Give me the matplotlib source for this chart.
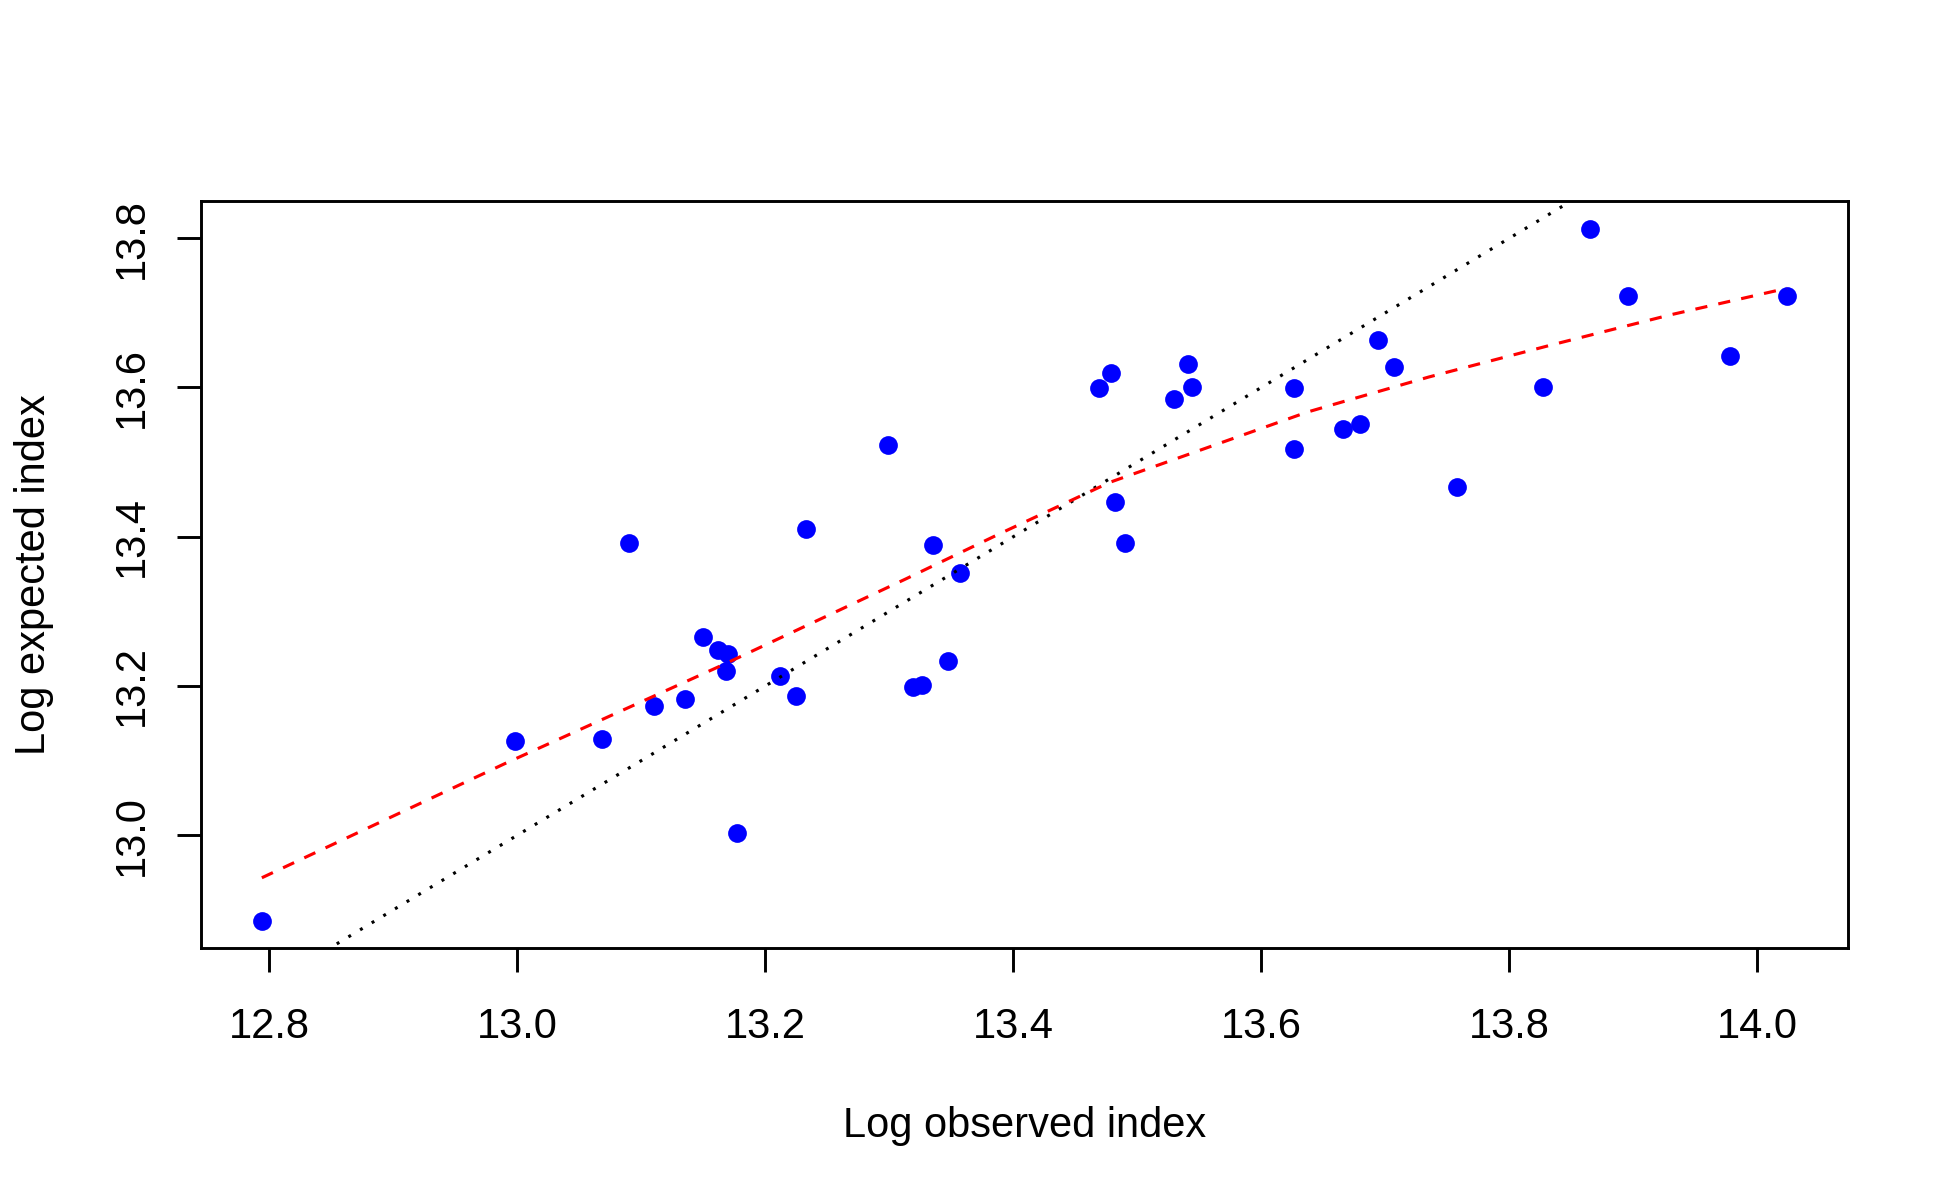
import matplotlib
matplotlib.use("Agg")
import matplotlib.pyplot as plt
import numpy as np

plt.rcParams['font.family'] = ['Liberation Sans', 'DejaVu Sans']

# observed vs expected index (log scale)
log_observed = [12.794, 12.998, 13.068, 13.090, 13.110, 13.135, 13.150, 13.162,
                13.170, 13.168, 13.177, 13.212, 13.225, 13.233, 13.299, 13.319,
                13.326, 13.335, 13.347, 13.357, 13.469, 13.479, 13.482, 13.490,
                13.530, 13.541, 13.544, 13.626, 13.626, 13.666, 13.680, 13.694,
                13.707, 13.758, 13.827, 13.865, 13.896, 13.978, 14.024]
log_expected = [12.885, 13.126, 13.129, 13.391, 13.173, 13.182, 13.265, 13.248,
                13.243, 13.220, 13.003, 13.213, 13.187, 13.410, 13.523, 13.199,
                13.201, 13.389, 13.233, 13.351, 13.599, 13.620, 13.446, 13.391,
                13.585, 13.632, 13.601, 13.599, 13.517, 13.545, 13.551, 13.663,
                13.627, 13.466, 13.601, 13.812, 13.722, 13.642, 13.722]

# smoother (red dashed)
smooth_x = [12.794, 12.990, 13.168, 13.314, 13.389, 13.478, 13.637, 13.666,
            13.735, 13.834, 13.929, 14.024]
smooth_y = [12.943, 13.096, 13.230, 13.344, 13.404, 13.473, 13.567, 13.581,
            13.614, 13.657, 13.697, 13.733]

x_ticks = [12.8, 13.0, 13.2, 13.4, 13.6, 13.8, 14.0]
y_ticks = [13.0, 13.2, 13.4, 13.6, 13.8]

fig = plt.figure(figsize=(13, 8), dpi=150)
ax = fig.add_axes([0.1030, 0.2097, 0.9477 - 0.1030, 0.8323 - 0.2097])

ax.plot(log_observed, log_expected, 'o', color='#0000FF', ms=9, mew=0, zorder=2)

ax.set_xlim(12.7448, 14.0732)
ax.set_ylim(12.8484, 13.8496)

ident = np.array([12.0, 15.0])
ax.plot(ident, ident, color='black', lw=1.5, dashes=(0.95, 3.4), zorder=3)
ax.plot(smooth_x, smooth_y, color='#FF0000', lw=1.5, dashes=(3.9, 3.6), zorder=4)

ax.set_xticks(x_ticks)
ax.set_xticklabels(['%.1f' % v for v in x_ticks])
ax.set_yticks(y_ticks)
ax.set_yticklabels(['%.1f' % v for v in y_ticks], rotation=90, va='center')

ax.tick_params(axis='both', direction='out', length=11.5, width=1.4,
               labelsize=20, colors='black')
ax.tick_params(axis='x', pad=16.5)
ax.tick_params(axis='y', pad=12)
for s in ax.spines.values():
    s.set_linewidth(1.4)

ax.set_xlabel('Log observed index', fontsize=20)
ax.xaxis.label.set_va('baseline')
ax.xaxis.set_label_coords(0.5, -0.253)
ax.set_ylabel('Log expected index', fontsize=20)
ax.yaxis.label.set_rotation_mode('anchor')
ax.yaxis.label.set_va('baseline')
ax.yaxis.label.set_ha('center')
ax.yaxis.set_label_coords(-0.0947, 0.5)

fig.savefig('out.png', dpi=150)
